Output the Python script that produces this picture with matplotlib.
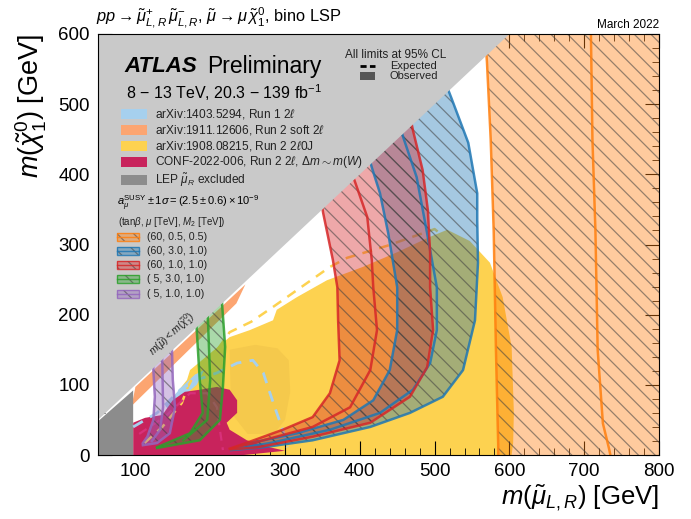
import matplotlib.pyplot as plt
import matplotlib.patches as mpatches
from matplotlib.ticker import MultipleLocator
import numpy as np

plt.rcParams['font.family'] = ['Liberation Sans', 'DejaVu Sans']
plt.rcParams['mathtext.fontset'] = 'custom'
plt.rcParams['mathtext.rm'] = 'Liberation Sans'
plt.rcParams['mathtext.it'] = 'Liberation Sans:italic'
plt.rcParams['mathtext.bf'] = 'Liberation Sans:bold'
plt.rcParams['hatch.linewidth'] = 0.9

# ---- Data (GeV): exclusion contours ----
# Run 2 2l0J (yellow), observed + expected
yellow_obs = [(160, 0), (160, 95), (169, 107), (173, 121), (226, 168), (253, 178),
              (284, 192), (289, 207), (316, 225), (356, 249), (404, 268), (450, 289),
              (494, 311), (517, 321), (547, 305), (574, 274), (591, 225), (603, 154),
              (606, 60), (605, 17), (603, 0)]
yellow_dark = [(226, 150), (260, 157), (290, 152), (305, 135), (307, 90), (300, 50),
               (285, 30), (250, 30), (228, 60)]
yellow_exp = [(112, 17), (136, 40), (162, 74), (170, 97), (180, 117), (193, 125),
              (226, 175), (255, 190), (284, 211), (316, 235), (360, 268), (383, 281),
              (436, 298), (500, 322), (525, 300), (545, 260), (560, 225), (568, 180),
              (572, 120), (573, 50), (574, 0)]
# Run 1 2l (light blue)
run1_obs = [(140, 70), (160, 95), (180, 115), (192, 121), (182, 100), (160, 80), (145, 64)]
run1_exp = [(97, 40), (129, 60), (160, 93), (182, 107), (209, 117), (236, 131),
            (257, 135), (271, 117), (280, 88), (289, 60), (297, 36), (303, 11)]
# Run 2 soft 2l (orange strip)
soft_obs = [(95, 70), (235, 216), (247, 243), (100, 97)]
# CONF-2022-006 (crimson)
conf_obs = [(97, 0), (97, 46), (113, 53), (136, 57), (150, 78), (166, 90), (186, 93),
            (209, 97), (226, 93), (236, 78), (236, 60), (222, 46), (226, 36), (249, 21),
            (280, 11), (300, 6), (245, 0)]
conf_exp = [(105, 30), (140, 55), (173, 88), (196, 88), (209, 68), (213, 36), (217, 7)]
# LEP
lep = [(50, 0), (50, 48), (97, 92), (97, 0)]

# g-2 bands: (lower edge, central, upper edge)
orange_lo = [(585, 0), (585, 15), (582, 150), (579, 320), (575, 450), (570, 560), (566, 620)]
orange_mid = [(735, 0), (733, 10), (725, 45), (718, 150), (715, 320), (711, 450), (709, 600)]
orange_hi = [(820, 620), (820, 0)]

blue_lo = [(228, 8), (253, 17), (316, 31), (378, 50), (418, 78), (440, 121), (450, 178),
           (450, 239), (438, 316), (427, 373), (416, 410), (400, 470)]
blue_mid = [(228, 8), (280, 17), (360, 36), (427, 60), (471, 93), (494, 131), (503, 178),
            (503, 239), (490, 316), (476, 396), (458, 453), (440, 520)]
blue_hi = [(228, 7), (271, 11), (337, 21), (414, 40), (467, 60), (511, 83), (538, 121),
           (554, 192), (558, 274), (557, 335), (557, 373), (545, 445), (522, 510), (500, 570)]

red_lo = [(226, 9), (253, 19), (297, 36), (337, 54), (360, 88), (373, 135), (371, 192),
          (370, 239), (364, 278), (351, 345), (340, 420)]
red_mid = [(228, 9), (271, 21), (337, 40), (387, 68), (414, 121), (423, 178), (418, 239),
           (416, 278), (410, 339), (394, 388), (380, 430)]
red_hi = [(228, 8), (263, 11), (337, 26), (414, 46), (467, 83), (490, 125), (498, 178),
          (494, 239), (494, 288), (491, 349), (484, 406), (471, 463), (460, 520)]

green_lo = [(129, 11), (173, 31), (190, 60), (186, 107), (182, 178), (180, 210)]
green_mid = [(164, 21), (196, 50), (200, 107), (197, 192), (195, 225)]
green_hi = [(129, 10), (186, 21), (213, 50), (217, 97), (220, 154), (216, 214), (214, 240)]

purple_lo = [(110, 17), (116, 26), (124, 50), (126, 83), (124, 121), (123, 140)]
purple_mid = [(122, 20), (133, 36), (137, 68), (136, 131), (135, 155)]
purple_hi = [(110, 14), (129, 17), (146, 31), (153, 68), (150, 107), (149, 147), (148, 170)]

band_colors = ['#ff7f0e', '#1f77b4', '#d62728', '#2ca02c', '#9467bd']
band_labels = ['(60, 0.5, 0.5)', '(60, 3.0, 1.0)', '(60, 1.0, 1.0)', '( 5, 3.0, 1.0)', '( 5, 1.0, 1.0)']

ana_colors = ['#a6d0ee', '#fca571', '#fdd250', '#c8235c', '#8c8c8c']
ana_labels = ['arXiv:1403.5294, Run 1 2$\\ell$', 'arXiv:1911.12606, Run 2 soft 2$\\ell$',
              'arXiv:1908.08215, Run 2 2$\\ell$0J',
              'CONF-2022-006, Run 2 2$\\ell$, $\\Delta m \\sim m(W)$',
              'LEP $\\tilde{\\mu}_R$ excluded']

HATCH = '\\\\'
HATCH_COLOR = (0.25, 0.25, 0.25, 0.55)

fig = plt.figure(figsize=(6.91, 5.19), dpi=100)
ax = fig.add_axes([98 / 691, 64 / 519, 561 / 691, 421 / 519])


def poly(pts, **kw):
    p = np.array(pts)
    ax.fill(p[:, 0], p[:, 1], lw=0, **kw)


def line(pts, **kw):
    p = np.array(pts)
    ax.plot(p[:, 0], p[:, 1], **kw)


# analysis regions
poly(yellow_obs, color=ana_colors[2], zorder=1)
poly(yellow_dark, color='#f5c94c', zorder=1.1)
poly(run1_obs, color=ana_colors[0], zorder=1.5)
poly(soft_obs, color=ana_colors[1], zorder=1.6)
poly(conf_obs, color=ana_colors[3], zorder=2)
poly(lep, color=ana_colors[4], zorder=2)
line(yellow_exp, color='#fdd250', lw=1.8, ls=(0, (4, 3)), zorder=2.5)
line(run1_exp, color=ana_colors[0], lw=2, ls=(0, (4, 3)), zorder=2.5)
line(conf_exp, color='#d8307a', lw=1.6, ls=(0, (4, 3)), zorder=2.5)

# g-2 bands
bands = [(orange_lo, orange_mid, orange_hi, False),
         (blue_lo, blue_mid, blue_hi, True),
         (red_lo, red_mid, red_hi, True),
         (green_lo, green_mid, green_hi, True),
         (purple_lo, purple_mid, purple_hi, True)]
for (lo, mid, hi, draw_hi), c in zip(bands, band_colors):
    lo_a, hi_a = np.array(lo), np.array(hi)
    if draw_hi:
        hi_a = hi_a[::-1]
    px = np.concatenate([lo_a[:, 0], hi_a[:, 0]])
    py = np.concatenate([lo_a[:, 1], hi_a[:, 1]])
    ax.fill(px, py, color=c, alpha=0.4, lw=0, zorder=5)
    ax.fill(px, py, facecolor='none', edgecolor=HATCH_COLOR, hatch=HATCH, lw=0, zorder=5.1)
    curves = [lo, mid, hi] if draw_hi else [lo, mid]
    for cv in curves:
        line(cv, color=c, lw=1.8, alpha=0.85, zorder=5.2)

# kinematically forbidden region
ax.fill([50, 650, 50], [50, 650, 650], color='#c9c9c9', lw=0, zorder=8)
ax.text(149, 172, r'$m(\tilde{\mu}) < m(\tilde{\chi}_1^0)$', rotation=43, rotation_mode='anchor',
        ha='center', va='center', fontsize=7.5, color='#222222', zorder=10)

ax.set_xlim(50, 800)
ax.set_ylim(0, 600)
ax.xaxis.set_major_locator(MultipleLocator(100))
ax.xaxis.set_minor_locator(MultipleLocator(20))
ax.yaxis.set_major_locator(MultipleLocator(100))
ax.yaxis.set_minor_locator(MultipleLocator(20))
ax.tick_params(which='both', direction='in', top=True, right=True, labelsize=13.5, pad=6)
ax.tick_params(which='major', length=10)
ax.tick_params(which='minor', length=5)
for sp in ax.spines.values():
    sp.set_zorder(12)

# header texts
tr = ax.transAxes
ax.text(0.048, 0.922, 'ATLAS', transform=tr, fontsize=16, fontweight='bold', style='italic',
        va='center', zorder=11)
ax.text(0.194, 0.922, 'Preliminary', transform=tr, fontsize=16.5, va='center', zorder=11)
ax.text(0.050, 0.860, r'8 $-$ 13 TeV, 20.3 $-$ 139 fb$^{-1}$', transform=tr, fontsize=11.5,
        va='center', zorder=11)

# analysis legend
ana_y = [0.810, 0.772, 0.734, 0.696, 0.653]
for c, lab, y in zip(ana_colors, ana_labels, ana_y):
    ax.add_patch(mpatches.Rectangle((0.041, y - 0.012), 0.046, 0.024, color=c, transform=tr,
                                    zorder=11, lw=0))
    ax.text(0.1016, y, lab, transform=tr, fontsize=8.6, va='center', color='#222222', zorder=11)

ax.text(0.034, 0.599, r'$a_{\mu}^{\rm SUSY} \pm 1\sigma = (2.5 \pm 0.6) \times 10^{-9}$',
        transform=tr, fontsize=8, va='center', zorder=11)
ax.text(0.036, 0.553, r'(tan$\beta$, $\mu$ [TeV], $M_2$ [TeV])', transform=tr, fontsize=7,
        va='center', color='#222222', zorder=11)

band_y = [0.518, 0.485, 0.451, 0.418, 0.382]
for c, lab, y in zip(band_colors, band_labels, band_y):
    ax.add_patch(mpatches.Rectangle((0.034, y - 0.009), 0.039, 0.018, facecolor=c, alpha=0.4,
                                    transform=tr, zorder=11, lw=0))
    ax.add_patch(mpatches.Rectangle((0.034, y - 0.009), 0.039, 0.018, facecolor='none',
                                    edgecolor=HATCH_COLOR, hatch=HATCH, lw=0,
                                    transform=tr, zorder=11.1))
    ax.add_patch(mpatches.Rectangle((0.034, y - 0.009), 0.039, 0.018, facecolor='none',
                                    edgecolor=c, lw=1.0, alpha=0.85, transform=tr, zorder=11.2))
    ax.plot([0.034, 0.073], [y, y], color=c, lw=1.0, alpha=0.85, transform=tr, zorder=11.2)
    ax.text(0.0873, y, lab, transform=tr, fontsize=7.7, va='center', color='#222222', zorder=11)

# CL legend
ax.text(0.531, 0.950, 'All limits at 95% CL', transform=tr, fontsize=8.5, ha='center',
        va='center', color='#222222', zorder=11)
ax.plot([0.467, 0.494], [0.924, 0.924], color='black', lw=2, ls=(0, (2.2, 1.2)), transform=tr,
        zorder=11)
ax.text(0.520, 0.924, 'Expected', transform=tr, fontsize=8, va='center', color='#222222', zorder=11)
ax.add_patch(mpatches.Rectangle((0.467, 0.890), 0.027, 0.02, color='#555555', transform=tr,
                                zorder=11, lw=0))
ax.text(0.520, 0.900, 'Observed', transform=tr, fontsize=8, va='center', color='#222222', zorder=11)

# figure texts
fig.text(0.139, 0.967,
         r'$pp \rightarrow \tilde{\mu}^{+}_{L,R}\,\tilde{\mu}^{-}_{L,R}$, $\tilde{\mu} \rightarrow \mu\,\tilde{\chi}^{0}_{1}$, bino LSP',
         fontsize=11.8, va='center')
fig.text(0.954, 0.952, 'March 2022', fontsize=8.5, ha='right', va='center')
fig.text(0.954, 0.042, r'$m(\tilde{\mu}_{L,R})$ [GeV]', fontsize=18.5, ha='right', va='center')
fig.text(0.046, 0.935, r'$m(\tilde{\chi}^{0}_{1})$ [GeV]', fontsize=19.5, rotation=90,
         ha='center', va='top')

fig.savefig('out.png', dpi=100)
